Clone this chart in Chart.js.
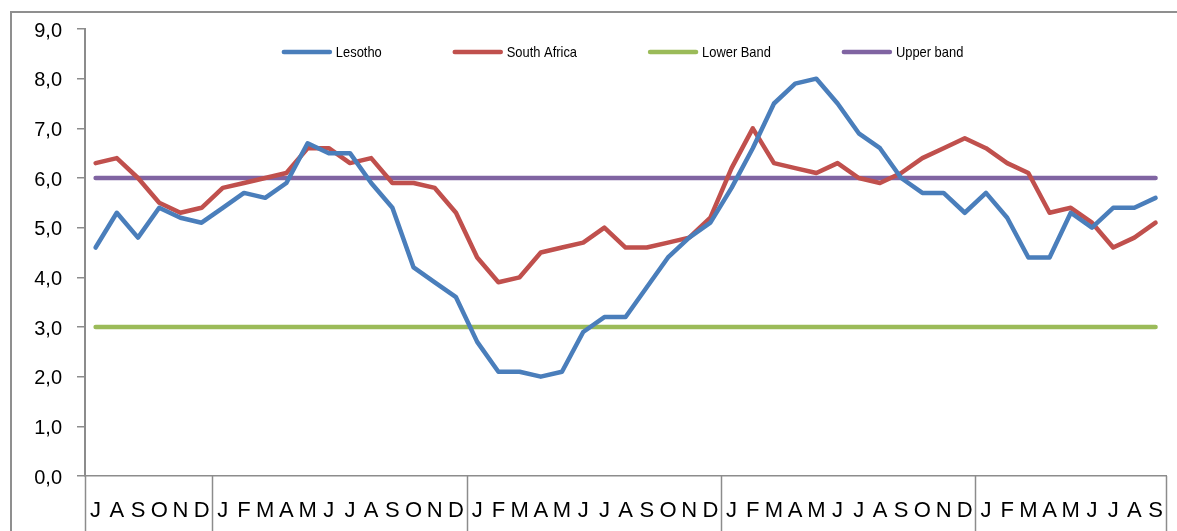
<!DOCTYPE html>
<html>
<head>
<meta charset="utf-8">
<script src="https://cdn.jsdelivr.net/npm/chart.js@4.4.1/dist/chart.umd.min.js"></script>
<style>
  html, body { margin: 0; padding: 0; background: #fff; overflow: hidden; }
  #wrap { position: relative; width: 1177px; height: 531px; }
  #frame { position: absolute; left: 10px; top: 11px; width: 1300px; height: 700px;
           border-top: 2px solid #8f8f8f; border-left: 2px solid #8f8f8f; }
  #c { position: absolute; left: 0; top: 0; }
</style>
</head>
<body>
<div id="wrap">
  <div id="frame"></div>
  <canvas id="c" width="1177" height="531"></canvas>
</div>
<script>
// month initials, Jul of year 1 through Sep of year 5
const months = ['J','A','S','O','N','D',
  'J','F','M','A','M','J','J','A','S','O','N','D',
  'J','F','M','A','M','J','J','A','S','O','N','D',
  'J','F','M','A','M','J','J','A','S','O','N','D',
  'J','F','M','A','M','J','J','A','S'];

// index where each year group starts (last entry = end of axis)
const yearBreaks = [0, 6, 18, 30, 42, 51];

const lesotho = [4.6, 5.3, 4.8, 5.4, 5.2, 5.1,
  5.4, 5.7, 5.6, 5.9, 6.7, 6.5, 6.5, 5.9, 5.4, 4.2, 3.9, 3.6,
  2.7, 2.1, 2.1, 2.0, 2.1, 2.9, 3.2, 3.2, 3.8, 4.4, 4.8, 5.1,
  5.8, 6.6, 7.5, 7.9, 8.0, 7.5, 6.9, 6.6, 6.0, 5.7, 5.7, 5.3,
  5.7, 5.2, 4.4, 4.4, 5.3, 5.0, 5.4, 5.4, 5.6];

const southAfrica = [6.3, 6.4, 6.0, 5.5, 5.3, 5.4,
  5.8, 5.9, 6.0, 6.1, 6.6, 6.6, 6.3, 6.4, 5.9, 5.9, 5.8, 5.3,
  4.4, 3.9, 4.0, 4.5, 4.6, 4.7, 5.0, 4.6, 4.6, 4.7, 4.8, 5.2,
  6.2, 7.0, 6.3, 6.2, 6.1, 6.3, 6.0, 5.9, 6.1, 6.4, 6.6, 6.8,
  6.6, 6.3, 6.1, 5.3, 5.4, 5.1, 4.6, 4.8, 5.1];

const lowerBand = [3.0, 3.0, 3.0, 3.0, 3.0, 3.0,
  3.0, 3.0, 3.0, 3.0, 3.0, 3.0, 3.0, 3.0, 3.0, 3.0, 3.0, 3.0,
  3.0, 3.0, 3.0, 3.0, 3.0, 3.0, 3.0, 3.0, 3.0, 3.0, 3.0, 3.0,
  3.0, 3.0, 3.0, 3.0, 3.0, 3.0, 3.0, 3.0, 3.0, 3.0, 3.0, 3.0,
  3.0, 3.0, 3.0, 3.0, 3.0, 3.0, 3.0, 3.0, 3.0];

const upperBand = [6.0, 6.0, 6.0, 6.0, 6.0, 6.0,
  6.0, 6.0, 6.0, 6.0, 6.0, 6.0, 6.0, 6.0, 6.0, 6.0, 6.0, 6.0,
  6.0, 6.0, 6.0, 6.0, 6.0, 6.0, 6.0, 6.0, 6.0, 6.0, 6.0, 6.0,
  6.0, 6.0, 6.0, 6.0, 6.0, 6.0, 6.0, 6.0, 6.0, 6.0, 6.0, 6.0,
  6.0, 6.0, 6.0, 6.0, 6.0, 6.0, 6.0, 6.0, 6.0];

const FONT = "'Liberation Sans', Arial, sans-serif";
const AXIS_GREY = '#8c8c8c';

const series = [
  { label: 'Lesotho', data: lesotho, color: '#4a7ebb' },
  { label: 'South Africa', data: southAfrica, color: '#c0504d' },
  { label: 'Lower Band', data: lowerBand, color: '#9bbb59' },
  { label: 'Upper band', data: upperBand, color: '#8064a2' }
];

// vertical separators between years, running down through the label row
const yearSeparators = {
  id: 'yearSeparators',
  afterDraw(chart) {
    const x = chart.scales.x;
    const ctx = chart.ctx;
    const step = x.getPixelForValue(1) - x.getPixelForValue(0);
    ctx.save();
    ctx.strokeStyle = AXIS_GREY;
    ctx.lineWidth = 1.5;
    yearBreaks.forEach(b => {
      const px = Math.round(x.getPixelForValue(b) - step / 2) + 0.5;
      ctx.beginPath();
      ctx.moveTo(px, x.top);
      ctx.lineTo(px, chart.height);
      ctx.stroke();
    });
    ctx.restore();
  }
};

// legend sits inside the plot area, like the original (narrow text)
const insideLegend = {
  id: 'insideLegend',
  afterDatasetsDraw(chart) {
    const ctx = chart.ctx;
    const area = chart.chartArea;
    const lineLen = 50, textGap = 4, itemGap = 71, y = 52, squeeze = 0.86;
    ctx.save();
    ctx.font = '15px ' + FONT;
    const widths = chart.data.datasets.map(d => lineLen + textGap + ctx.measureText(d.label).width * squeeze);
    const total = widths.reduce((a, b) => a + b, 0) + itemGap * (widths.length - 1);
    let x = (area.left + area.right) / 2 - total / 2 - 3;
    chart.data.datasets.forEach((d, i) => {
      ctx.strokeStyle = d.borderColor;
      ctx.lineWidth = 4.5;
      ctx.lineCap = 'round';
      ctx.beginPath();
      ctx.moveTo(x + 2, y);
      ctx.lineTo(x + lineLen - 2, y);
      ctx.stroke();
      ctx.save();
      ctx.translate(x + lineLen + textGap, y + 1);
      ctx.scale(squeeze, 1);
      ctx.fillStyle = '#000';
      ctx.textBaseline = 'middle';
      ctx.fillText(d.label, 0, 0);
      ctx.restore();
      x += widths[i] + itemGap;
    });
    ctx.restore();
  }
};

new Chart(document.getElementById('c'), {
  type: 'line',
  data: {
    labels: months,
    datasets: series.map(s => ({
      label: s.label,
      data: s.data,
      borderColor: s.color,
      backgroundColor: s.color,
      borderWidth: 4.5,
      borderCapStyle: 'round',
      borderJoinStyle: 'round',
      pointRadius: 0,
      tension: 0,
      fill: false
    }))
  },
  options: {
    responsive: false,
    animation: false,
    layout: { padding: { top: 29, right: 10, left: 0, bottom: 0 } },
    plugins: {
      legend: { display: false },
      tooltip: { enabled: false }
    },
    scales: {
      x: {
        offset: true,
        grid: { display: false },
        border: { color: AXIS_GREY, width: 1.5 },
        ticks: {
          autoSkip: false,
          maxRotation: 0,
          padding: 14,
          color: '#000',
          font: { family: FONT, size: 22 }
        },
        afterFit(scale) { scale.height = 55; }
      },
      y: {
        min: 0,
        max: 9,
        grid: { drawOnChartArea: false, drawTicks: true, tickLength: 8, color: AXIS_GREY, lineWidth: 1.5 },
        border: { color: AXIS_GREY, width: 2 },
        ticks: {
          stepSize: 1,
          padding: 15,
          labelOffset: 2,
          color: '#000',
          font: { family: FONT, size: 20 },
          callback: v => v.toFixed(1).replace('.', ',')
        },
        afterFit(scale) { scale.width = 85; }
      }
    }
  },
  plugins: [yearSeparators, insideLegend]
});
</script>
</body>
</html>
